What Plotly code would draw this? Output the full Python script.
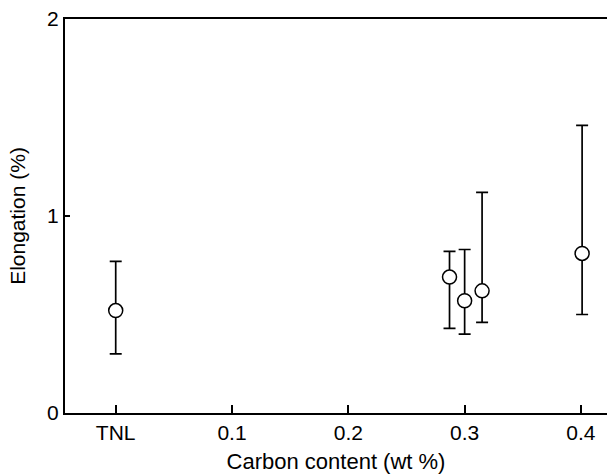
import plotly.graph_objects as go

carbon = [0.0, 0.287, 0.300, 0.315, 0.401]
elongation = [0.52, 0.69, 0.57, 0.62, 0.81]
upper = [0.77, 0.82, 0.83, 1.12, 1.46]
lower = [0.30, 0.43, 0.40, 0.46, 0.50]
x_tickvals = [0.0, 0.1, 0.2, 0.3, 0.4]
x_ticktext = ["TNL", "0.1", "0.2", "0.3", "0.4"]
y_tickvals = [0, 1, 2]

err_plus = [u - e for u, e in zip(upper, elongation)]
err_minus = [e - l for e, l in zip(elongation, lower)]

fig = go.Figure()
fig.add_trace(go.Scatter(
    x=carbon, y=elongation, mode="markers",
    marker=dict(symbol="circle", size=14, color="white",
                line=dict(color="black", width=1.5)),
    error_y=dict(type="data", array=err_plus, arrayminus=err_minus,
                 color="black", thickness=1.7, width=6),
    showlegend=False,
))

font_family = "Liberation Sans, Arial, sans-serif"
fig.update_layout(
    width=607, height=474,
    margin=dict(l=65, r=0, t=19, b=61),
    paper_bgcolor="white", plot_bgcolor="white",
    font=dict(family=font_family, size=21, color="black"),
    xaxis=dict(
        range=[-0.0436, 0.4224], tickvals=x_tickvals, ticktext=x_ticktext,
        ticks="inside", ticklen=8, tickwidth=2, tickcolor="black",
        showline=True, linecolor="black", linewidth=2, mirror=True,
        showgrid=False, zeroline=False,
        title=dict(text="Carbon content (wt %)", font=dict(size=22), standoff=12),
        tickfont=dict(size=21),
    ),
    yaxis=dict(
        range=[0, 2], tickvals=y_tickvals,
        ticks="inside", ticklen=5, tickwidth=1.5, tickcolor="black",
        showline=True, linecolor="black", linewidth=2,
        showgrid=False, zeroline=False,
        title=dict(text="Elongation (%)", font=dict(size=21), standoff=16),
        tickfont=dict(size=21),
    ),
)

fig.write_html("out.html")
